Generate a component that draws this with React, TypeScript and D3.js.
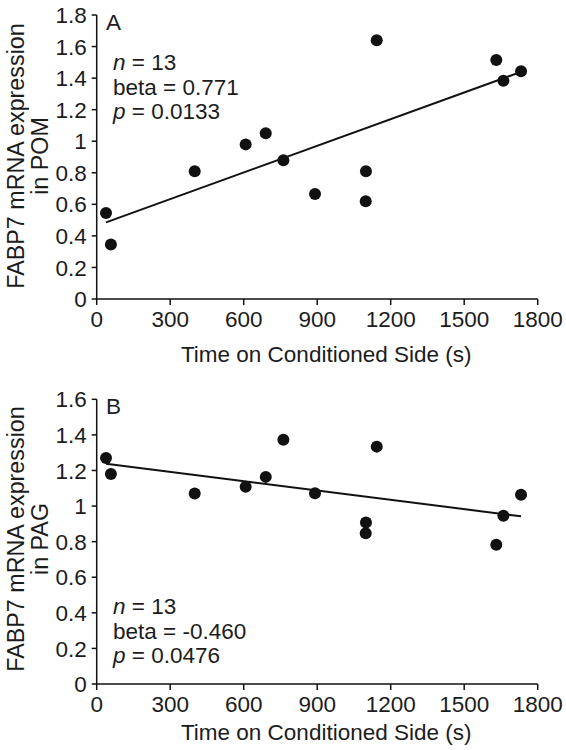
import React from "react";
import * as d3 from "d3";

const timeSec = [38, 58, 400, 608, 690, 762, 891, 1098, 1099, 1143, 1631, 1660, 1732];
const pomExpr = [0.545, 0.345, 0.81, 0.98, 1.05, 0.88, 0.665, 0.62, 0.81, 1.64, 1.515, 1.383, 1.443];
const pagExpr = [1.27, 1.18, 1.07, 1.109, 1.164, 1.373, 1.072, 0.847, 0.907, 1.334, 0.783, 0.946, 1.064];
const xTicks = [0, 300, 600, 900, 1200, 1500, 1800];
const pomTicks = [0, 0.2, 0.4, 0.6, 0.8, 1, 1.2, 1.4, 1.6, 1.8];
const pagTicks = [0, 0.2, 0.4, 0.6, 0.8, 1, 1.2, 1.4, 1.6];

const FONT = "'Liberation Sans', Arial, Helvetica, sans-serif";
const INK = "#111";
const TXT = "#1c1c1c";
const FS = 22.5;

function fit(xs: number[], ys: number[]) {
  const mx = d3.mean(xs)!;
  const my = d3.mean(ys)!;
  let sxy = 0, sxx = 0;
  xs.forEach((x, i) => { sxy += (x - mx) * (ys[i] - my); sxx += (x - mx) * (x - mx); });
  const b = sxy / sxx;
  return { a: my - b * mx, b };
}

type PanelProps = {
  top: number; bottom: number; ymax: number; yTicks: number[]; values: number[];
  letter: string; region: string; stats: string[]; statsY: number; xLabelY: number; yLabelMid: number;
};

function Panel({ top, bottom, ymax, yTicks, values, letter, region, stats, statsY, xLabelY, yLabelMid }: PanelProps) {
  const x = d3.scaleLinear().domain([0, 1800]).range([96.7, 537.7]);
  const y = d3.scaleLinear().domain([0, ymax]).range([bottom, top]);
  const { a, b } = fit(timeSec, values);
  const x0 = d3.min(timeSec)!, x1 = d3.max(timeSec)!;
  const line = d3.line<number>().x(d => x(d)).y(d => y(a + b * d));
  const fmt = (v: number) => String(+v.toFixed(1));
  return (
    <g fontFamily={FONT} fill={TXT}>
      <line x1={x(0)} x2={x(0)} y1={y(ymax)} y2={y(0)} stroke={INK} strokeWidth={1.5} />
      <line x1={x(0)} x2={x(1800)} y1={y(0)} y2={y(0)} stroke={INK} strokeWidth={1.5} />
      {yTicks.map(t => (
        <g key={"y" + t}>
          <line x1={x(0) - 5} x2={x(0)} y1={y(t)} y2={y(t)} stroke={INK} strokeWidth={1.5} />
          <text x={x(0) - 10} y={y(t)} dy="0.36em" textAnchor="end" fontSize={FS}>{fmt(t)}</text>
        </g>
      ))}
      {xTicks.map(t => (
        <g key={"x" + t}>
          <line x1={x(t)} x2={x(t)} y1={y(0)} y2={y(0) + 6} stroke={INK} strokeWidth={1.5} />
          <text x={x(t)} y={y(0) + 27.5} textAnchor="middle" fontSize={FS}>{t}</text>
        </g>
      ))}
      <text x={(x(0) + x(1800)) / 2 + 9} y={xLabelY} textAnchor="middle" fontSize={FS}>Time on Conditioned Side (s)</text>
      <text transform={`translate(23.5,${yLabelMid}) rotate(-90)`} textAnchor="middle" fontSize={23.3}>FABP7 mRNA expression</text>
      <text transform={`translate(48,${yLabelMid}) rotate(-90)`} textAnchor="middle" fontSize={23.3}>in {region}</text>
      <text x={106} y={top + 14.5} fontSize={FS}>{letter}</text>
      <text x={113} y={statsY} fontSize={FS}>
        <tspan fontStyle="italic">n</tspan> = 13
      </text>
      <text x={113} y={statsY + 24.5} fontSize={FS}>{stats[0]}</text>
      <text x={113} y={statsY + 49} fontSize={FS}>
        <tspan fontStyle="italic">p</tspan> = {stats[1]}
      </text>
      <path d={line([x0, x1]) || ""} stroke={INK} strokeWidth={2} fill="none" />
      {timeSec.map((t, i) => (
        <circle key={i} cx={x(t)} cy={y(values[i])} r={6} fill={INK} />
      ))}
    </g>
  );
}

export default function App() {
  return (
    <svg width={566} height={750} style={{ position: "absolute", left: 0, top: 0, background: "#fff" }}>
      <rect width={566} height={750} fill="#fff" />
      <Panel top={15} bottom={299} ymax={1.8} yTicks={pomTicks} values={pomExpr} letter="A" region="POM"
        stats={["beta = 0.771", "0.0133"]} statsY={70} xLabelY={362} yLabelMid={156} />
      <Panel top={399.3} bottom={684} ymax={1.6} yTicks={pagTicks} values={pagExpr} letter="B" region="PAG"
        stats={["beta = -0.460", "0.0476"]} statsY={614} xLabelY={740} yLabelMid={539} />
    </svg>
  );
}
